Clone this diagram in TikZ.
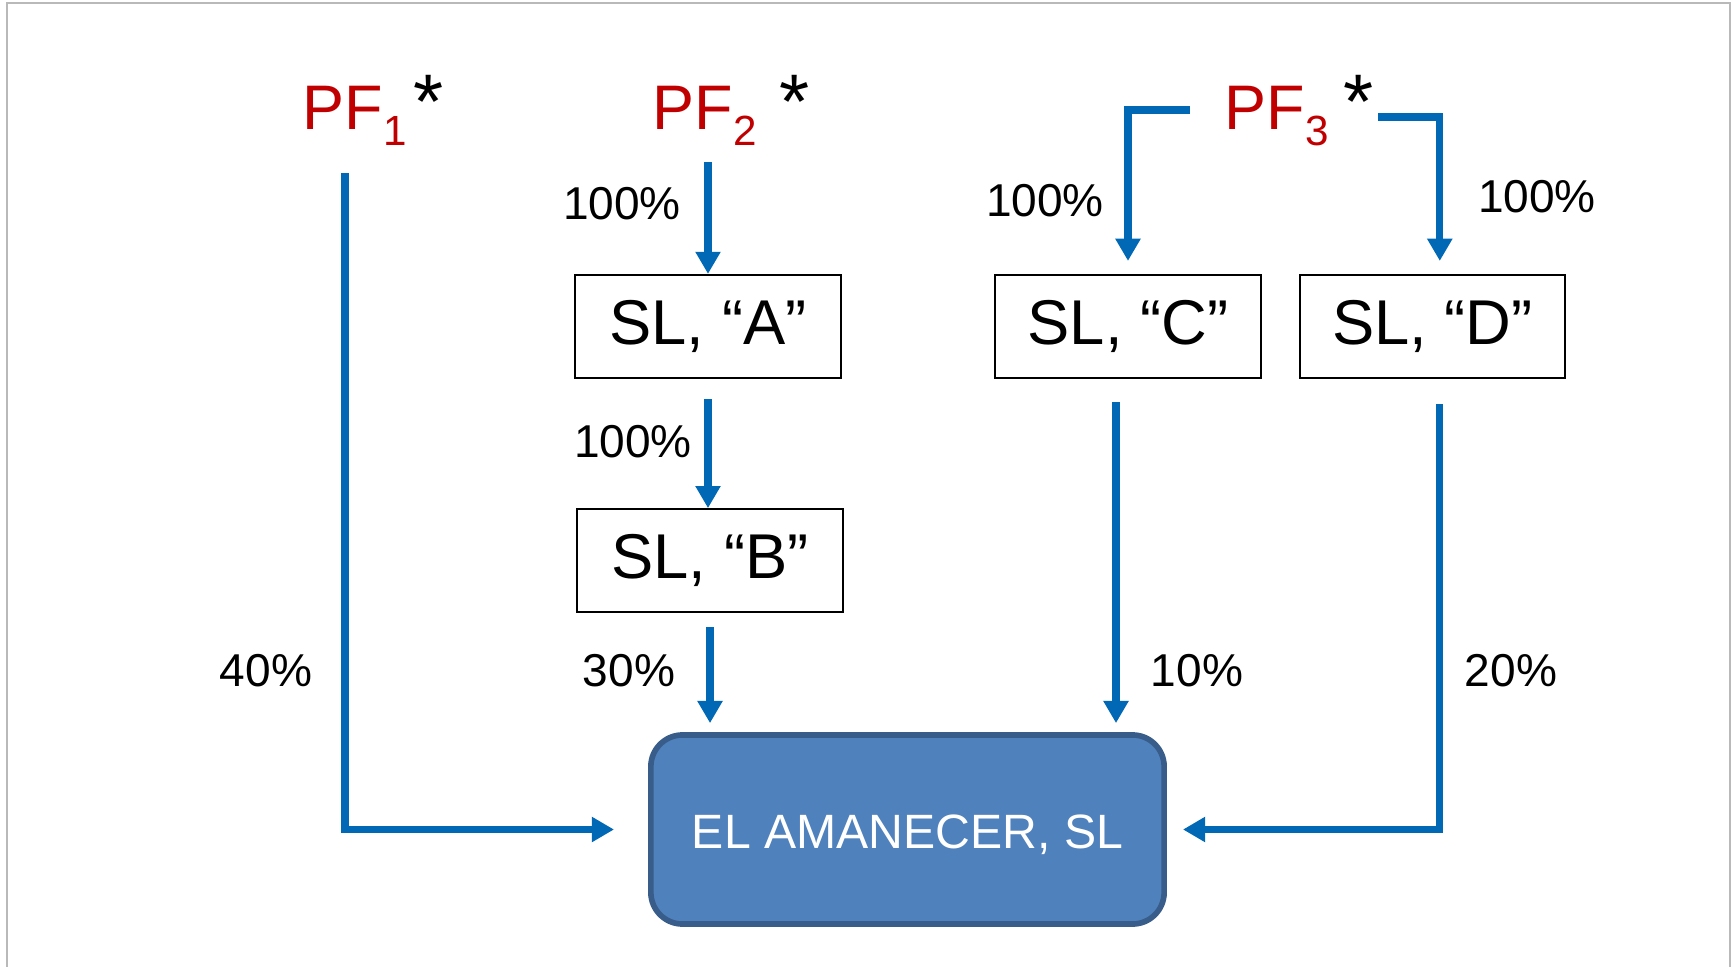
\documentclass[tikz,border=0pt]{standalone}
\usepackage{graphicx}
\usepackage{fontspec}
\setmainfont{Liberation Sans}
\usetikzlibrary{positioning,arrows.meta}

\definecolor{linkblue}{RGB}{0,104,180}
\definecolor{pfred}{RGB}{192,0,0}
\definecolor{mainfill}{RGB}{79,129,189}
\definecolor{mainline}{RGB}{56,93,138}

% PF label with subscript and star
\newcommand{\pfname}[2]{PF\raisebox{-4.3pt}{\fontsize{12}{12}\selectfont #1}\hspace{#2}\raisebox{0.5pt}{\color{black}\fontsize{22}{22}\selectfont *}}

\begin{document}
\begin{tikzpicture}[x=0.01cm, y=-0.01cm,
    pf/.style = {anchor=base west, inner sep=0pt, text=pfred, font=\fontsize{17.9}{20}\selectfont},
    box/.style = {draw, line width=0.6pt, minimum width=2.65cm, minimum height=1.03cm, inner sep=0pt, font=\fontsize{18}{20}\selectfont},
    company/.style = {draw=mainline, fill=mainfill, line width=1.6pt, rounded corners=9pt, minimum width=5.13cm, minimum height=1.89cm, text=white, font=\fontsize{13.7}{16}\selectfont},
    link/.style = {draw=linkblue, line width=2pt, -{Triangle[width=6.8pt,length=6.3pt]}},
    pct/.style = {inner sep=0pt, font=\fontsize{13.1}{15}\selectfont}]

    \useasboundingbox (0,0) rectangle (1733,967);
    \draw[gray!55, line width=0.6pt] (7,3) rectangle (1730,1000);

    % owners
    \node[pf] (pf1) at (302,130) {\pfname{1}{2pt}};
    \node[pf] (pf2) at (652,130) {\pfname{2}{6.5pt}};
    \node[pf] (pf3) at (1224,130) {\pfname{3}{4.3pt}};

    % companies
    \node[box] (a) at (708,326.5) {SL, “A”};
    \node[box, below=1.29cm of a, xshift=0.02cm] (b) {SL, “B”};
    \node[box] (c) at (1128,326.5) {SL, “C”};
    \node[box, right=0.37cm of c] (d) {SL, “D”};
    \node[company] (main) at (907.5,829.5) {\raisebox{-5.4pt}[0pt][0pt]{EL AMANECER, SL}};

    % free ends next to the owners
    \coordinate (pf1out) at (345,173);
    \coordinate (pf2out) at (708,162);
    \coordinate (pf3l) at (1190,110);
    \coordinate (pf3r) at (1378,117);

    % shares
    \draw[link, shorten >=0.34cm] (pf1out) |- (main.west);
    \draw[link] (pf2out) -- (a.north);
    \draw[link, shorten <=0.2cm] (a.south) -- (a.south |- b.north);
    \draw[link, shorten <=0.14cm, shorten >=0.09cm] (b.south) -- (b.south |- main.north);
    \draw[link, shorten >=0.13cm] (pf3l) -| (c.north);
    \draw[link, shorten >=0.13cm] (pf3r) -| ([xshift=0.075cm]d.north);
    \draw[link, shorten <=0.23cm, shorten >=0.09cm] ([xshift=-0.12cm]c.south) -- ([xshift=-0.12cm]c.south |- main.north);
    \draw[link, shorten <=0.25cm, shorten >=0.16cm] ([xshift=0.075cm]d.south) |- (main.east);

    % percentages
    \node[pct] (pa) at (622,204) {100\%};
    \node[pct] (ab) at (633,442) {100\%};
    \node[pct] (bm) at (629,671) {30\%};
    \node[pct] (p1m) at (266,671) {40\%};
    \node[pct] (pc) at (1045,201) {100\%};
    \node[pct] (pd) at (1537,197) {100\%};
    \node[pct] (cm) at (1197,671) {10\%};
    \node[pct] (dm) at (1511,671) {20\%};
\end{tikzpicture}
\end{document}
